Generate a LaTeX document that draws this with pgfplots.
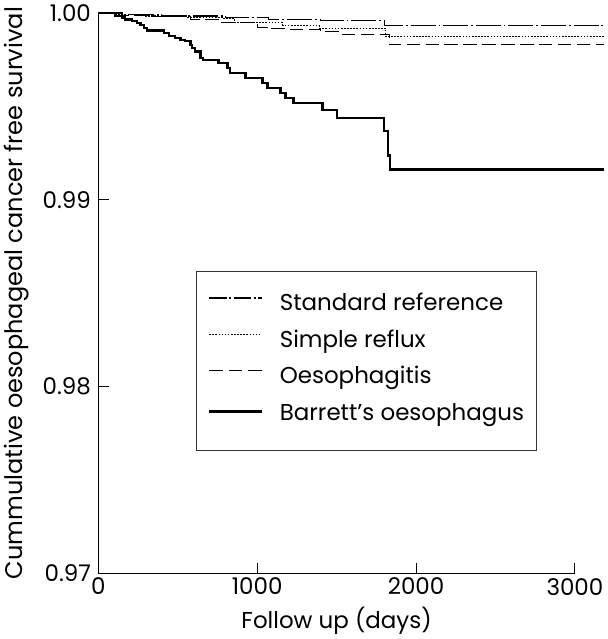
\documentclass[border=0pt]{standalone}
\usepackage{fontspec}
\setmainfont{Poppins}
\usepackage{pgfplots}
\pgfplotsset{compat=1.18}
\newcommand{\fsz}{\fontsize{17}{20}\selectfont}
\begin{document}
\begin{tikzpicture}
\begin{axis}[
  scale only axis, width=353pt, height=415pt,
  xmin=0, xmax=3000, ymin=0.97, ymax=1.0,
  clip=false,
  axis lines=left, axis line style={-, line width=0.9pt},
  tick align=inside, major tick length=8pt,
  tick style={line width=0.7pt, black},
  xtick={0,1000,2000,3000}, ytick={0.97,0.98,0.99,1.00},
  /pgf/number format/assume math mode=true,
  xticklabel style={/pgf/number format/1000 sep={}},
  yticklabel style={/pgf/number format/.cd, fixed, fixed zerofill, precision=2, /tikz/.cd, xshift=-2pt},
  tick label style={font=\fsz},
  xlabel style={font=\fsz, yshift=-2pt},
  ylabel style={font=\fontsize{17.8}{20}\selectfont, yshift=3pt},
  xlabel={Follow up (days)},
  ylabel={Cummulative oesophageal cancer free survival},
  legend cell align=left,
  legend style={at={(0.204,0.54)}, anchor=north west, font=\fsz,
    draw=black!80, line width=0.6pt, fill=white,
    inner xsep=9pt, inner ysep=10pt, row sep=1.2pt, column sep=12.5pt,
    nodes={inner sep=0pt, text height=19.5pt, text depth=6.3pt}},
]
% Standard reference
\addplot[const plot, black, line width=0.8pt, dash pattern=on 18.5pt off 2.2pt on 1.2pt off 2.2pt,
  legend image code/.code={\draw[black, line width=0.8pt, dash pattern=on 13pt off 2pt on 1.2pt off 2pt] (0pt,0.3em) -- (39pt,0.3em);}]
  coordinates {
  (0,1.0) (150,0.99990) (400,0.99984) (800,0.99977) (1070,0.99965)
  (1400,0.99960) (1800,0.99931) (3182,0.99931)
};
\addlegendentry{Standard reference}
% Simple reflux
\addplot[const plot, black, line width=0.8pt, dash pattern=on 1.2pt off 1.1pt,
  legend image code/.code={\draw[black, line width=0.7pt, dash pattern=on 1.2pt off 1.1pt] (0pt,0.3em) -- (39pt,0.3em);}]
  coordinates {
  (0,1.0) (100,0.99990) (300,0.99984) (560,0.99976) (780,0.99970)
  (860,0.99947) (1160,0.99934) (1390,0.99919) (1810,0.99872) (3182,0.99872)
};
\addlegendentry{Simple reflux}
% Oesophagitis
\addplot[const plot, black, line width=0.8pt, dash pattern=on 10pt off 4pt,
  legend image code/.code={\draw[black, line width=0.8pt, dash pattern=on 10pt off 4.5pt] (0pt,0.3em) -- (39pt,0.3em);}]
  coordinates {
  (0,1.0) (150,0.99989) (350,0.99981) (580,0.99965) (760,0.99947)
  (1000,0.99923) (1070,0.99915) (1200,0.99911) (1400,0.99899)
  (1520,0.99887) (1830,0.99829) (3182,0.99829)
};
\addlegendentry{Oesophagitis}
% Barrett's oesophagus
\addplot[const plot, black, line width=1.6pt,
  legend image code/.code={\draw[black, line width=1.6pt] (0pt,0.3em) -- (39pt,0.3em);}]
  coordinates {
  (0,1.0) (107,0.99983) (151,0.99976) (170,0.99965) (214,0.99956)
  (246,0.99947) (265,0.99934) (290,0.99920) (309,0.99906) (416,0.99893)
  (447,0.99875) (485,0.99866) (517,0.99857) (548,0.99848) (580,0.99830)
  (592,0.99812) (611,0.99794) (643,0.99760) (660,0.99748) (756,0.99733)
  (813,0.99706) (830,0.99679) (926,0.99652) (1033,0.99625) (1065,0.99598)
  (1147,0.99571) (1178,0.99544) (1229,0.99518) (1411,0.99480) (1500,0.99437)
  (1796,0.99367) (1821,0.99237) (1834,0.99162) (3182,0.99162)
};
\addlegendentry[text depth=12.5pt]{Barrett's oesophagus\hspace{4pt}}
\end{axis}
\end{tikzpicture}
\end{document}
